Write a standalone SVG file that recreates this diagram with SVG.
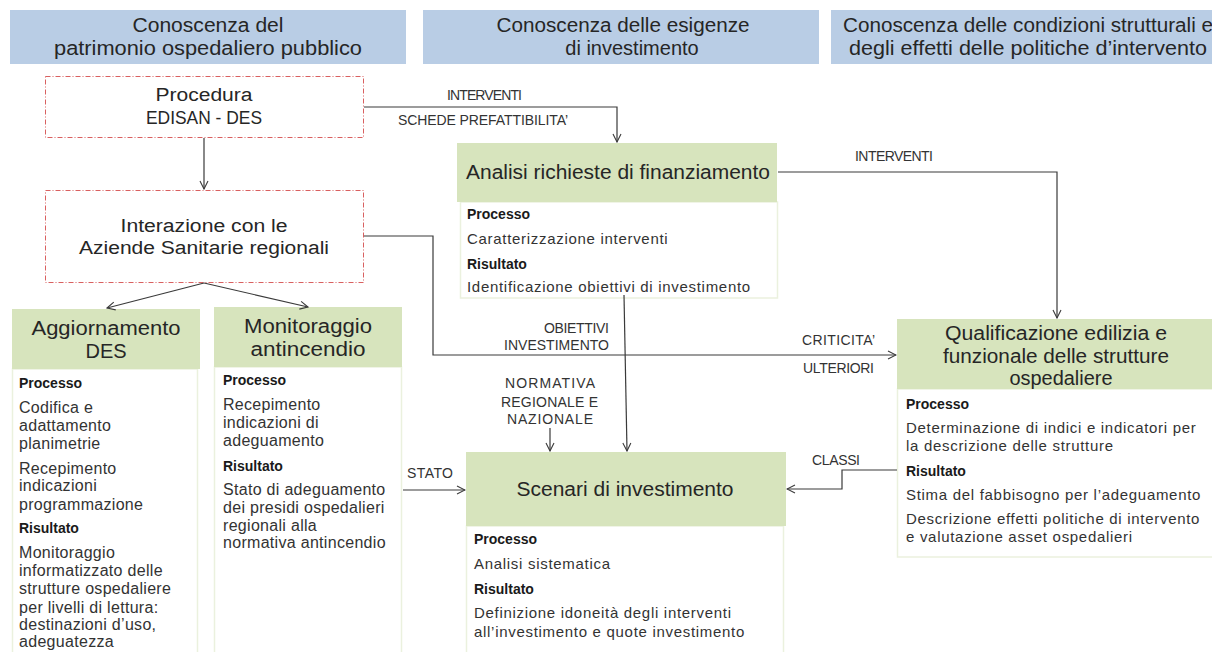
<svg xmlns="http://www.w3.org/2000/svg" width="1212" height="652" viewBox="0 0 1212 652">
<defs>
<style>
text{font-family:"Liberation Sans",Arial,sans-serif;fill:#262626}
.hdr{fill:#b9cde5}
.hdt{font-size:20px;text-anchor:middle}
.dash{fill:#fff;stroke:#d96060;stroke-width:1;stroke-dasharray:5 2 1 2}
.ttl{font-size:18px;text-anchor:middle}
.gh{fill:#d7e4bd}
.gt{font-size:20px;text-anchor:middle}
.body{fill:#fff;stroke:#ebf1de;stroke-width:1.5}
.b{font-size:14px;font-weight:bold;fill:#1a1a1a}
.t{font-size:15px;letter-spacing:0.7px;fill:#333}
.tl{font-size:16px;letter-spacing:0.3px;fill:#333}
.lbl{font-size:14px;fill:#333}
.con{fill:none;stroke:#3a3a3a;stroke-width:1.2}
</style>
<marker id="arr" viewBox="0 0 10 10" refX="9" refY="5" markerWidth="10" markerHeight="10" markerUnits="userSpaceOnUse" orient="auto">
<path d="M1,1 L9,5 L1,9" fill="none" stroke="#3a3a3a" stroke-width="1.1"/>
</marker>
</defs>
<rect width="1212" height="652" fill="#fff"/>

<g id="header1">
<rect class="hdr" x="10" y="10" width="396" height="54"/>
<text class="hdt" x="208" y="32" textLength="151" lengthAdjust="spacingAndGlyphs">Conoscenza del</text>
<text class="hdt" x="208" y="55" textLength="308" lengthAdjust="spacingAndGlyphs">patrimonio ospedaliero pubblico</text>
</g>
<g id="header2">
<rect class="hdr" x="423" y="10" width="396" height="54"/>
<text class="hdt" x="623" y="32" textLength="253" lengthAdjust="spacingAndGlyphs">Conoscenza delle esigenze</text>
<text class="hdt" x="632" y="55">di investimento</text>
</g>
<g id="header3">
<rect class="hdr" x="831" y="10" width="400" height="54"/>
<text class="hdt" x="1028" y="32" textLength="370" lengthAdjust="spacingAndGlyphs">Conoscenza delle condizioni strutturali e</text>
<text class="hdt" x="1028" y="55" textLength="358" lengthAdjust="spacingAndGlyphs">degli effetti delle politiche d’intervento</text>
</g>

<g id="procedura">
<rect class="dash" x="45.5" y="76.5" width="318" height="61"/>
<text class="ttl" x="204" y="101" textLength="97" lengthAdjust="spacingAndGlyphs">Procedura</text>
<text class="ttl" x="204" y="124" textLength="116" lengthAdjust="spacingAndGlyphs">EDISAN - DES</text>
</g>

<g id="interazione">
<rect class="dash" x="45.5" y="190.5" width="318" height="92"/>
<text class="ttl" x="204" y="232" textLength="167" lengthAdjust="spacingAndGlyphs">Interazione con le</text>
<text class="ttl" x="204" y="254" textLength="250" lengthAdjust="spacingAndGlyphs">Aziende Sanitarie regionali</text>
</g>

<g id="aggiornamento">
<rect class="body" x="12.5" y="369" width="185" height="300"/>
<rect class="gh" x="12" y="309" width="188" height="60"/>
<text class="gt" x="106" y="335" textLength="149" lengthAdjust="spacingAndGlyphs">Aggiornamento</text>
<text class="gt" x="106" y="358">DES</text>
<text class="b" x="19" y="388">Processo</text>
<text class="tl" x="19" y="413">Codifica e</text>
<text class="tl" x="19" y="431">adattamento</text>
<text class="tl" x="19" y="449">planimetrie</text>
<text class="tl" x="19" y="474">Recepimento</text>
<text class="tl" x="19" y="491">indicazioni</text>
<text class="tl" x="19" y="510">programmazione</text>
<text class="b" x="19" y="533">Risultato</text>
<text class="tl" x="19" y="558">Monitoraggio</text>
<text class="tl" x="19" y="576">informatizzato delle</text>
<text class="tl" x="19" y="594">strutture ospedaliere</text>
<text class="tl" x="19" y="613">per livelli di lettura:</text>
<text class="tl" x="19" y="630">destinazioni d’uso,</text>
<text class="tl" x="19" y="647">adeguatezza</text>
</g>

<g id="monitoraggio">
<rect class="body" x="214.5" y="367" width="187" height="300"/>
<rect class="gh" x="214" y="307" width="188" height="60"/>
<text class="gt" x="308" y="333" textLength="128" lengthAdjust="spacingAndGlyphs">Monitoraggio</text>
<text class="gt" x="308" y="356" textLength="115" lengthAdjust="spacingAndGlyphs">antincendio</text>
<text class="b" x="223" y="385">Processo</text>
<text class="tl" x="223" y="410">Recepimento</text>
<text class="tl" x="223" y="428">indicazioni di</text>
<text class="tl" x="223" y="446">adeguamento</text>
<text class="b" x="223" y="471">Risultato</text>
<text class="tl" x="223" y="495">Stato di adeguamento</text>
<text class="tl" x="223" y="513">dei presidi ospedalieri</text>
<text class="tl" x="223" y="531">regionali alla</text>
<text class="tl" x="223" y="548">normativa antincendio</text>
</g>

<g id="analisi">
<rect class="body" x="460.5" y="202" width="317" height="96"/>
<rect class="gh" x="457" y="143" width="320" height="59"/>
<text class="gt" x="618" y="179" textLength="304" lengthAdjust="spacingAndGlyphs">Analisi richieste di finanziamento</text>
<text class="b" x="467" y="219">Processo</text>
<text class="t" x="467" y="244">Caratterizzazione interventi</text>
<text class="b" x="467" y="269">Risultato</text>
<text class="t" x="467" y="292">Identificazione obiettivi di investimento</text>
</g>

<g id="qualificazione">
<rect class="body" x="897.5" y="389" width="320" height="168"/>
<rect class="gh" x="897" y="319" width="320" height="70"/>
<text class="gt" x="1056" y="340" textLength="222" lengthAdjust="spacingAndGlyphs">Qualificazione edilizia e</text>
<text class="gt" x="1056" y="363" textLength="226" lengthAdjust="spacingAndGlyphs">funzionale delle strutture</text>
<text class="gt" x="1061" y="385" textLength="103" lengthAdjust="spacingAndGlyphs">ospedaliere</text>
<text class="b" x="906" y="409">Processo</text>
<text class="t" x="906" y="433">Determinazione di indici e indicatori per</text>
<text class="t" x="906" y="451">la descrizione delle strutture</text>
<text class="b" x="906" y="476">Risultato</text>
<text class="t" x="906" y="500">Stima del fabbisogno per l’adeguamento</text>
<text class="t" x="906" y="524">Descrizione effetti politiche di intervento</text>
<text class="t" x="906" y="542">e valutazione asset ospedalieri</text>
</g>

<g id="scenari">
<rect class="body" x="466.5" y="526" width="317" height="140"/>
<rect class="gh" x="466" y="452" width="320" height="74"/>
<text class="gt" x="625" y="496" textLength="217" lengthAdjust="spacingAndGlyphs">Scenari di investimento</text>
<text class="b" x="474" y="544">Processo</text>
<text class="t" x="474" y="569">Analisi sistematica</text>
<text class="b" x="474" y="594">Risultato</text>
<text class="t" x="474" y="618">Definizione idoneità degli interventi</text>
<text class="t" x="474" y="637">all’investimento e quote investimento</text>
</g>

<g id="connectors">
<path class="con" d="M204,138 V189" marker-end="url(#arr)"/>
<path class="con" d="M204,283 L107,308" marker-end="url(#arr)"/>
<path class="con" d="M204,283 L308,307" marker-end="url(#arr)"/>
<path class="con" d="M364,107 H617 V142" marker-end="url(#arr)"/>
<path class="con" d="M364,236 H433 V355 H896" marker-end="url(#arr)"/>
<path class="con" d="M778,172 H1057 V318" marker-end="url(#arr)"/>
<path class="con" d="M624,295 L627,451" stroke="#555" marker-end="url(#arr)"/>
<path class="con" d="M550,428 V451" marker-end="url(#arr)"/>
<path class="con" d="M403,490 H465" marker-end="url(#arr)"/>
<path class="con" d="M897,470 H842 V489 H787" marker-end="url(#arr)"/>
<text class="lbl" x="447" y="100" textLength="75" lengthAdjust="spacing">INTERVENTI</text>
<text class="lbl" x="398" y="125" textLength="170" lengthAdjust="spacing">SCHEDE PREFATTIBILITA’</text>
<text class="lbl" x="855" y="161" textLength="78" lengthAdjust="spacing">INTERVENTI</text>
<text class="lbl" x="544" y="333" textLength="65" lengthAdjust="spacing">OBIETTIVI</text>
<text class="lbl" x="504" y="350" textLength="105" lengthAdjust="spacing">INVESTIMENTO</text>
<text class="lbl" x="802" y="345" textLength="73" lengthAdjust="spacing">CRITICITA’</text>
<text class="lbl" x="803" y="373" textLength="71" lengthAdjust="spacing">ULTERIORI</text>
<text class="lbl" x="505" y="388" textLength="90" lengthAdjust="spacing">NORMATIVA</text>
<text class="lbl" x="501" y="407" textLength="97" lengthAdjust="spacing">REGIONALE E</text>
<text class="lbl" x="507" y="424" textLength="86" lengthAdjust="spacing">NAZIONALE</text>
<text class="lbl" x="407" y="478" textLength="46" lengthAdjust="spacing">STATO</text>
<text class="lbl" x="812" y="465" textLength="48" lengthAdjust="spacing">CLASSI</text>
</g>
</svg>
